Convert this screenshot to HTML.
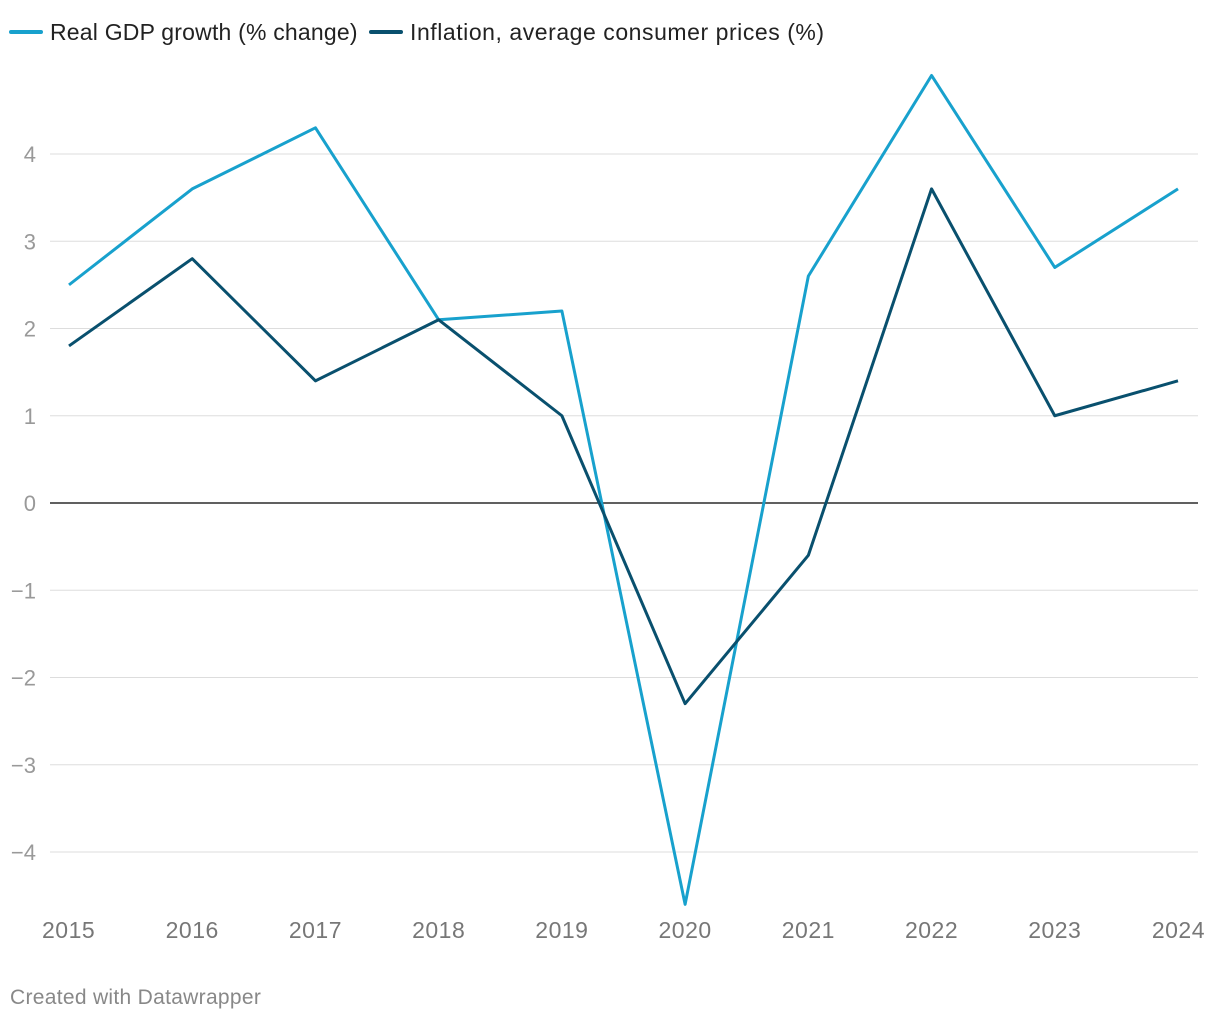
<!DOCTYPE html>
<html><head><meta charset="utf-8"><style>
body{margin:0;background:#fff;font-family:"Liberation Sans",sans-serif;}
svg text{font-family:"Liberation Sans",sans-serif;}
</style></head><body>
<svg id="chart" width="1220" height="1020">
<g>
<line x1="11" y1="32" x2="41" y2="32" stroke="#18a1cd" stroke-width="4" stroke-linecap="round"/>
<text x="50" y="40" font-size="23" letter-spacing="0.2" fill="#222">Real GDP growth (% change)</text>
<line x1="371" y1="32" x2="401" y2="32" stroke="#09506e" stroke-width="4" stroke-linecap="round"/>
<text x="410" y="40" font-size="23" letter-spacing="0.55" fill="#222">Inflation, average consumer prices (%)</text>
</g>
<g id="grid"></g><g id="lines"></g><g id="xt"></g>
<text x="10" y="1004" font-size="21" letter-spacing="0.3" fill="#888">Created with Datawrapper</text>
</svg>
<script>
const years=[2015,2016,2017,2018,2019,2020,2021,2022,2023,2024];
const gdp=[2.5,3.6,4.3,2.1,2.2,-4.6,2.6,4.9,2.7,3.6];
const inflation=[1.8,2.8,1.4,2.1,1.0,-2.3,-0.6,3.6,1.0,1.4];
const yTicks=[4,3,2,1,0,-1,-2,-3,-4];
const NS="http://www.w3.org/2000/svg";
const x=i=>69+i*(1178-69)/(years.length-1);
const y=v=>503-v*87.25;
function mk(t,a,p){const e=document.createElementNS(NS,t);for(const k in a)e.setAttribute(k,a[k]);p.appendChild(e);return e;}
const g=document.getElementById('grid');
yTicks.forEach(t=>{
 const l=mk('line',{x1:50,x2:1198,y1:y(t),y2:y(t),stroke:t===0?'#000':'#ddd','stroke-width':t===0?1.2:1},g);
 
 
 const tx=mk('text',{x:36,y:y(t)+8,'font-size':22,fill:'#999','text-anchor':'end'},g);
 tx.textContent=t<0?'\u2212'+Math.abs(t):String(t);
 
 
});
const xt=document.getElementById('xt');
years.forEach((yr,i)=>{
 const anchor=i===0?'start':(i===years.length-1?'end':'middle');
 const xx=i===0?42:(i===years.length-1?1205:x(i));
 const tx=mk('text',{x:xx,y:938,'font-size':23,'letter-spacing':0.5,fill:'#777','text-anchor':anchor},xt);
 tx.textContent=yr;
 
 
});
const L=document.getElementById('lines');
[[gdp,'#18a1cd','gdp-line'],[inflation,'#09506e','inflation-line']].forEach(([d,c,n])=>{
 const p=mk('polyline',{points:d.map((v,i)=>x(i)+','+y(v)).join(' '),fill:'none',stroke:c,'stroke-width':3,'stroke-linejoin':'round'},L);
 
 
});
</script>
</body></html>
